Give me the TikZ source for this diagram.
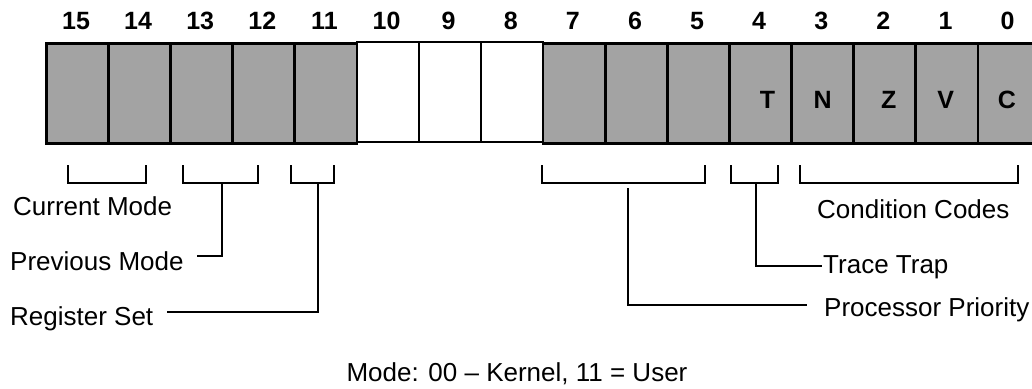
\documentclass[tikz,border=0pt]{standalone}
\usepackage{fontspec}
\setmainfont{Liberation Sans}
\usetikzlibrary{calc}
\begin{document}
\begin{tikzpicture}[x=1pt,y=-1pt,
  font=\fontsize{26}{30}\selectfont,
  cellbox/.style={draw=black,line width=2.6pt,minimum width=62.1pt,minimum height=100pt,anchor=north west,inner sep=0pt},
  shaded/.style={cellbox,fill=black!36},
  blank/.style={cellbox,fill=white,line width=2pt},
  bitnum/.style={font=\fontsize{25}{30}\selectfont\bfseries,inner sep=0pt,anchor=base},
  flag/.style={font=\fontsize{25}{30}\selectfont\bfseries,inner sep=0pt,anchor=base},
  lab/.style={inner sep=0pt,anchor=base west},
  conn/.style={line width=2pt},
]
\useasboundingbox (0,0) rectangle (1032,388);
% cells
\foreach \b in {15,14,13,12,11,7,6,5,4,3,2,1,0}{
  \node[shaded] (c\b) at ({45+(15-\b)*62.1},42) {};
}
\foreach \b in {10,9,8}{
  \node[blank] (c\b) at ({45+(15-\b)*62.1},41) {};
}
% bit numbers
\foreach \b in {15,14,13,12,11,10,9,8,7,6,5,4,3,2,1,0}{
  \node[bitnum] (n\b) at ({45+(15-\b)*62.1+31.05},29) {\b};
}
% flags
\node[flag] (fT) at ($(c4.center)+(7,15)$) {T};
\node[flag] (fN) at ($(c3.center)+(0,15)$) {N};
\node[flag] (fZ) at ($(c2.center)+(4,15)$) {Z};
\node[flag] (fV) at ($(c1.center)+(-1,15)$) {V};
\node[flag] (fC) at ($(c0.center)+(-2,15)$) {C};
% brackets
\draw[conn] (68,165) -- (68,183) -- (146,183) -- (146,165);
\draw[conn] (183,165) -- (183,183) -- (258,183) -- (258,165);
\draw[conn] (291,165) -- (291,183) -- (334,183) -- (334,165);
\draw[conn] (542,165) -- (542,183) -- (705,183) -- (705,165);
\draw[conn] (731,165) -- (731,183) -- (778,183) -- (778,165);
\draw[conn] (800,165) -- (800,183) -- (1018,183) -- (1018,165);
% labels
\node[lab] (cm) at (13,215) {Current Mode};
\node[lab] (pm) at (10,270) {Previous Mode};
\node[lab] (rs) at (10,325) {Register Set};
\node[lab] (cc) at (817,218) {Condition Codes};
\node[lab] (tt) at (823,273) {Trace Trap};
\node[lab] (pp) at (824,316) {Processor Priority};
\node[inner sep=0pt,anchor=base] (md) at (517,381) {Mode: 00 -- Kernel, 11 = User};
% connectors
\coordinate (pmTop) at (222,183);
\coordinate (pmEnd) at (197,256);
\draw[conn] (pmTop) |- (pmEnd);
\coordinate (rsTop) at (318,183);
\coordinate (rsEnd) at (167,312);
\draw[conn] (rsTop) |- (rsEnd);
\coordinate (ppTop) at (628,188);
\coordinate (ppEnd) at (807,305);
\draw[conn] (ppTop) |- (ppEnd);
\coordinate (ttTop) at (756,183);
\coordinate (ttEnd) at (822,266);
\draw[conn] (ttTop) |- (ttEnd);
\end{tikzpicture}
\end{document}
